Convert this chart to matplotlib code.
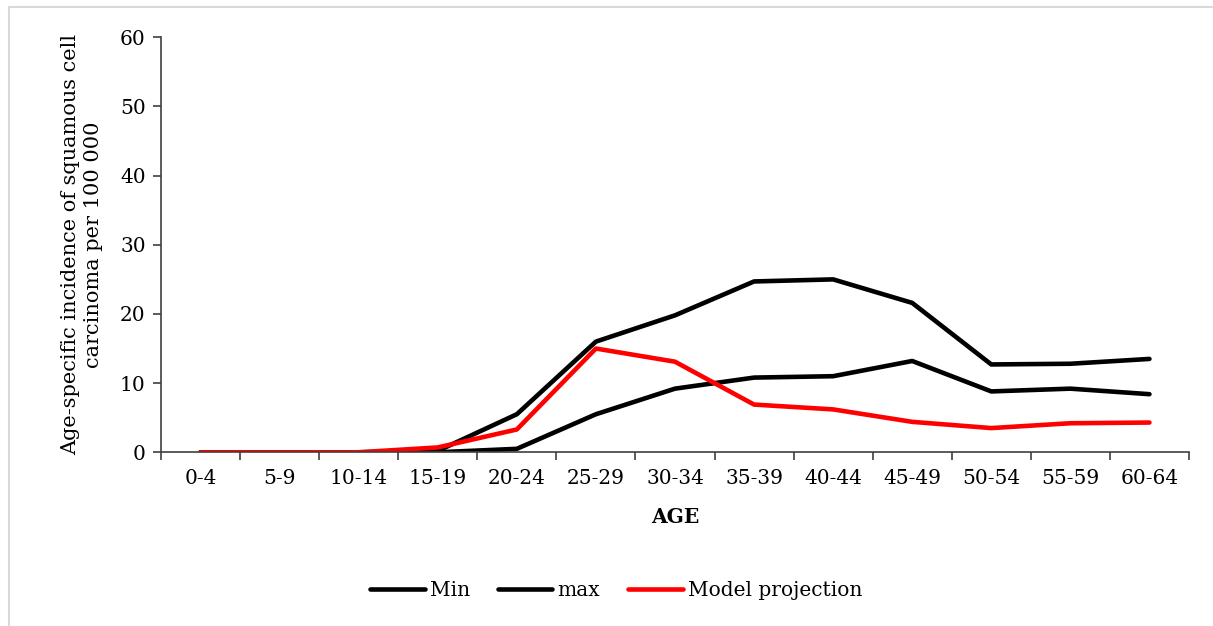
import matplotlib
matplotlib.use('Agg')
import matplotlib.pyplot as plt
from matplotlib.lines import Line2D

# 数据
age_groups = ['0-4', '5-9', '10-14', '15-19', '20-24', '25-29', '30-34',
              '35-39', '40-44', '45-49', '50-54', '55-59', '60-64']
min_vals = [0, 0, 0, 0, 0.5, 5.5, 9.2, 10.8, 11.0, 13.2, 8.8, 9.2, 8.4]
max_vals = [0, 0, 0, 0.2, 5.5, 16.0, 19.8, 24.7, 25.0, 21.6, 12.7, 12.8, 13.5]
model_vals = [0, 0, 0, 0.7, 3.3, 15.0, 13.1, 6.9, 6.2, 4.4, 3.5, 4.2, 4.3]

plt.rcParams['font.family'] = ['DejaVu Serif']

fig = plt.figure(figsize=(12.13, 6.26), dpi=100)
ax = fig.add_axes([0.1327, 0.2775, 0.8475, 0.6629])

# 外框（只有左边和上边）
fig.lines.append(Line2D([0.0075, 0.0075, 1.0], [0.0, 0.9885, 0.9885], transform=fig.transFigure,
                        color='#d9d9d9', linewidth=1.5))

x = list(range(len(age_groups)))
ax.plot(x, min_vals, color='black', lw=3.3, solid_capstyle='round', solid_joinstyle='round', label='Min')
ax.plot(x, max_vals, color='black', lw=3.3, solid_capstyle='round', solid_joinstyle='round', label='max')
ax.plot(x, model_vals, color='#ff0000', lw=3.3, solid_capstyle='round', solid_joinstyle='round', label='Model projection')

ax.set_xlim(-0.5, len(age_groups) - 0.5)
ax.set_ylim(0, 60)
ax.set_yticks(range(0, 61, 10))
ax.set_xticks([i - 0.5 for i in range(len(age_groups) + 1)])
ax.set_xticklabels([])
ax.set_xticks(x, minor=True)
ax.set_xticklabels(age_groups, minor=True)
ax.tick_params(axis='x', which='minor', length=0, pad=12, labelsize=14.5)
ax.tick_params(axis='x', which='major', length=6, direction='out', width=1.2, color='#404040')
ax.tick_params(axis='y', length=6, width=1.2, color='#404040', labelsize=14.5, pad=5)

for s in ['top', 'right']:
    ax.spines[s].set_visible(False)
for s in ['left', 'bottom']:
    ax.spines[s].set_color('#404040')
    ax.spines[s].set_linewidth(1.2)

ax.set_xlabel('AGE', fontsize=14.5, fontweight='bold', labelpad=14)
ax.set_ylabel('Age-specific incidence of squamous cell\ncarcinoma per 100 000', fontsize=15,
              linespacing=1.3, labelpad=12)

fig.legend(loc='center', bbox_to_anchor=(0.508, 0.057), ncol=3, frameon=False, fontsize=14.5,
           handlelength=2.7, handletextpad=0.25, columnspacing=1.4)

plt.savefig('out.png', dpi=100)
